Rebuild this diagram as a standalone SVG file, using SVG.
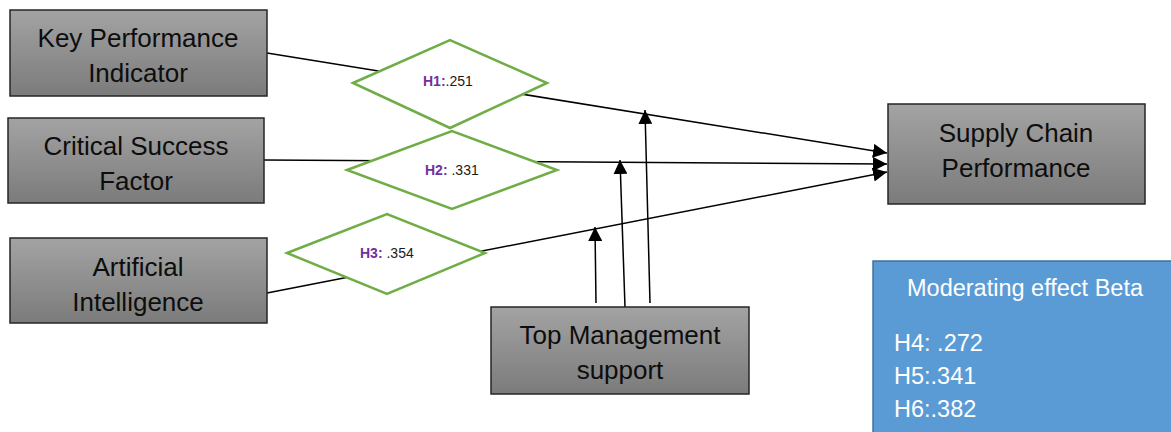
<svg xmlns="http://www.w3.org/2000/svg" width="1171" height="432" viewBox="0 0 1171 432">
  <defs>
    <linearGradient id="boxFill" x1="0" y1="0" x2="0" y2="1">
      <stop offset="0" stop-color="#a3a3a3"/>
      <stop offset="1" stop-color="#7b7b7b"/>
    </linearGradient>
    <marker id="arrow" viewBox="0 0 10 10" refX="10" refY="5" markerWidth="14" markerHeight="14" markerUnits="userSpaceOnUse" orient="auto">
      <path d="M0,0 L10,5 L0,10 Z" fill="#000"/>
    </marker>
  </defs>
  <style>
    .box { fill: url(#boxFill); stroke: #262626; stroke-width: 1.5; }
    .lbl { font-family: "Liberation Sans", Arial, sans-serif; font-size: 26px; fill: #0d0d0d; text-anchor: middle; }
    .dia { fill: #fff; stroke: #70ad47; stroke-width: 2.5; }
    .dlbl { font-family: "Liberation Sans", Arial, sans-serif; font-size: 14px; fill: #1a1a1a; }
    .hid { font-weight: bold; fill: #7030a0; }
    .conn { stroke: #000; stroke-width: 1.5; fill: none; marker-end: url(#arrow); }
    .note { fill: #5b9bd5; stroke: #41719c; stroke-width: 1.5; }
    .ntxt { font-family: "Liberation Sans", Arial, sans-serif; font-size: 23.5px; fill: #fff; }
  </style>
  <rect width="1171" height="432" fill="#fff"/>

  <!-- paths into Supply Chain Performance and moderator arrows -->
  <g id="connectors">
    <line class="conn" x1="267" y1="53" x2="887" y2="153"/>
    <line class="conn" x1="264" y1="160" x2="887" y2="164"/>
    <line class="conn" x1="267" y1="293" x2="887" y2="172"/>
    <line class="conn" x1="596" y1="303" x2="595" y2="227"/>
    <line class="conn" x1="625" y1="307" x2="620" y2="160"/>
    <line class="conn" x1="650" y1="303" x2="645" y2="110"/>
  </g>

  <g id="kpi">
    <rect class="box" x="10" y="10" width="257" height="86"/>
    <text class="lbl" x="138" y="47">Key Performance</text>
    <text class="lbl" x="138" y="82">Indicator</text>
  </g>
  <g id="csf">
    <rect class="box" x="8" y="118" width="256" height="85"/>
    <text class="lbl" x="136" y="155">Critical Success</text>
    <text class="lbl" x="136" y="190">Factor</text>
  </g>
  <g id="ai">
    <rect class="box" x="10" y="238" width="257" height="85"/>
    <text class="lbl" x="138" y="276">Artificial</text>
    <text class="lbl" x="138" y="311">Intelligence</text>
  </g>
  <g id="scp">
    <rect class="box" x="888" y="104" width="257" height="100"/>
    <text class="lbl" x="1016" y="142">Supply Chain</text>
    <text class="lbl" x="1016" y="177">Performance</text>
  </g>
  <g id="tms">
    <rect class="box" x="491" y="307" width="258" height="87"/>
    <text class="lbl" x="620" y="344">Top Management</text>
    <text class="lbl" x="620" y="379">support</text>
  </g>

  <g id="h1">
    <polygon class="dia" points="353,83 450,40 547,83 450,128"/>
    <text class="dlbl" x="423" y="86"><tspan class="hid">H1:</tspan>.251</text>
  </g>
  <g id="h2">
    <polygon class="dia" points="347,170 452,131 557,170 452,209"/>
    <text class="dlbl" x="425" y="175"><tspan class="hid">H2:</tspan> .331</text>
  </g>
  <g id="h3">
    <polygon class="dia" points="287,253 387,214 485,253 387,294"/>
    <text class="dlbl" x="360" y="258"><tspan class="hid">H3:</tspan> .354</text>
  </g>

  <g id="moderating">
    <rect class="note" x="873" y="261" width="310" height="180"/>
    <text class="ntxt" x="1025" y="296" text-anchor="middle">Moderating effect Beta</text>
    <text class="ntxt" x="894" y="351">H4: .272</text>
    <text class="ntxt" x="894" y="384">H5:.341</text>
    <text class="ntxt" x="894" y="417">H6:.382</text>
  </g>
</svg>
